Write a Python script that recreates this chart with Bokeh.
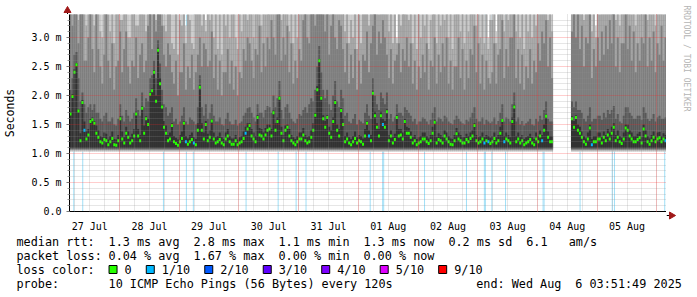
import numpy as np
import pandas as pd
from bokeh.plotting import figure
from bokeh.layouts import column, row
from bokeh.models import (Range1d, FixedTicker, Grid, ColumnDataSource,
                          DatetimeTickFormatter, CustomJSTickFormatter)
from bokeh.core.properties import value
from bokeh.embed import file_html
from bokeh.resources import INLINE

# ---------------------------------------------------------------- data
graph_start = "2025-07-27 03:51:49"
graph_end = "2025-08-06 03:51:49"
step_minutes = 48          # one consolidated sample every 48 min (300 samples)

N = None
# median RTT per sample (ms); None = no data
median_rtt = [
    1.68, 1.98, 2.40, 2.53, 1.73, 1.22, 1.88, 1.40, 1.25, 1.32,
    1.55, 1.58, 1.52, 1.35, 1.28, 1.20, 1.18, 1.24, 1.22, 1.15,
    1.20, 1.26, 1.15, 1.14, 1.22, 1.60, 1.25, 1.18, 1.35, 1.28,
    1.18, 1.22, 1.30, 1.68, 1.30, 1.22, 1.78, 1.35, 1.60, 1.50,
    2.02, 2.08, 2.40, 1.90, 2.78, 2.20, 1.80, 1.45, 1.35, 1.22,
    1.25, 1.48, 1.20, 1.17, 1.14, 1.20, 1.26, 1.52, 1.20, 1.16,
    1.20, 1.24, 1.18, 1.15, 1.40, 2.14, 1.40, 1.25, 1.50, 1.22,
    1.28, 1.56, 1.25, 1.18, 1.20, 1.24, 1.18, 1.15, 1.25, 1.30,
    1.20, 1.16, 1.16, 1.22, 1.15, 1.18, 1.20, 1.26, 1.35, 1.42,
    1.48, 1.30, 1.25, 1.20, 1.62, 1.32, 1.30, 1.25, 1.32, 1.40,
    1.42, 1.30, 1.70, 1.40, 1.55, 1.95, 1.35, 1.22, 1.40, 1.45,
    1.30, 1.22, 1.18, 1.15, 1.20, 1.25, 1.25, 1.32, 1.22, 1.18,
    1.20, 1.28, 1.40, 1.66, 2.10, 2.60, 1.95, 1.60, 1.45, 1.62,
    1.35, 1.28, 1.55, 1.88, 1.40, 1.30, 1.74, 1.50, 1.20, 1.25,
    1.18, 1.15, 1.20, 1.26, 1.18, 1.22, 1.20, 1.16, 1.30, 1.52,
    1.30, 1.22, 2.04, 1.65, 1.45, 1.30, 1.65, 1.50, 1.45, 1.72,
    1.22, 1.30, 1.18, 1.24, 1.62, 1.30, 1.32, 1.25, 1.55, 1.35,
    1.35, 1.28, 1.18, 1.22, 1.15, 1.18, 1.20, 1.25, 1.25, 1.20,
    1.17, 1.22, 1.35, 1.54, 1.18, 1.24, 1.22, 1.18, 1.30, 1.25,
    1.20, 1.16, 1.15, 1.22, 1.34, 1.25, 1.22, 1.18, 1.18, 1.24,
    1.20, 1.26, 1.30, 1.48, 1.22, 1.18, 1.20, 1.25, 1.18, 1.22,
    1.20, 1.17, 1.20, 1.26, 1.18, 1.22, 1.35, 1.57, 1.20, 1.25,
    1.22, 1.18, 1.55, 1.80, 1.20, 1.25, 1.18, 1.22, 1.15, 1.18,
    1.20, 1.24, 1.18, 1.15, 1.25, 1.20, 1.30, 1.22, 1.40, 1.64,
    1.28, 1.20, 1.20, N, N, N, N, N, N, N,
    N, N, 1.60, 1.45, 1.62, 1.40, 1.35, 1.28, 1.20, 1.16,
    1.25, 1.44, 1.15, 1.20, 1.20, 1.25, 1.25, 1.18, 1.28, 1.22,
    1.32, 1.25, 1.35, 1.45, 1.22, 1.28, 1.20, 1.17, 1.25, 1.44,
    1.40, 1.30, 1.25, 1.20, 1.20, 1.24, 1.27, 1.18, 1.42, 1.30,
    1.20, 1.16, 1.22, 1.28, 1.20, 1.25, 1.27, 1.20, 1.25, 1.22,
]

# lost pings (of 10) per sample
lost_pings = [
    0, 0, 0, 0, 0, 0, 0, 1, 0, 0,   0, 0, 0, 0, 0, 0, 0, 0, 0, 0,
    0, 0, 0, 0, 0, 0, 0, 0, 0, 0,   0, 0, 0, 0, 0, 0, 0, 0, 0, 0,
    0, 0, 0, 0, 0, 0, 0, 0, 0, 0,   0, 0, 0, 0, 0, 0, 0, 0, 1, 0,
    0, 0, 1, 0, 0, 0, 0, 0, 0, 0,   0, 0, 0, 0, 0, 0, 0, 0, 0, 0,
    0, 0, 0, 0, 0, 0, 0, 0, 1, 0,   0, 0, 0, 0, 0, 0, 0, 0, 0, 0,
    0, 0, 0, 0, 0, 0, 0, 0, 0, 0,   0, 0, 0, 0, 0, 0, 0, 0, 0, 0,
    0, 0, 0, 0, 0, 0, 0, 0, 0, 0,   0, 0, 0, 0, 0, 0, 0, 0, 0, 0,
    0, 0, 0, 0, 0, 0, 0, 0, 0, 0,   1, 0, 0, 0, 0, 0, 0, 1, 0, 0,
    0, 0, 0, 0, 0, 0, 0, 0, 0, 0,   0, 0, 0, 0, 0, 0, 0, 0, 0, 0,
    0, 0, 0, 0, 0, 0, 0, 0, 0, 0,   0, 0, 0, 0, 0, 0, 0, 0, 0, 0,
    0, 0, 0, 0, 0, 0, 0, 0, 1, 0,   1, 0, 0, 0, 0, 0, 0, 0, 1, 0,
    0, 0, 0, 0, 0, 0, 0, 0, 0, 0,   0, 0, 0, 0, 0, 0, 0, 1, 0, 0,
    0, 0, 0, 0, 0, 0, 0, 0, 0, 0,   0, 0, 0, 0, 0, 0, 0, 0, 0, 0,
    0, 0, 1, 0, 0, 0, 0, 0, 0, 0,   0, 0, 0, 0, 0, 0, 0, 0, 0, 0,
    0, 0, 0, 0, 0, 0, 0, 0, 0, 0,   0, 0, 0, 0, 0, 0, 0, 0, 0, 1,
]

# smoke: sorted ping ranks (ms); the five fastest pings are nearly constant
rank_floor = [1.03, 1.05, 1.065, 1.08, 1.095]   # ping 1..5

ping6 = [
    1.72, 2.02, 2.45, 2.56, 1.76, 1.35, 1.92, 1.55, 1.38, 1.42,
    1.60, 1.62, 1.56, 1.48, 1.40, 1.30, 1.28, 1.36, 1.34, 1.24,
    1.30, 1.38, 1.25, 1.24, 1.32, 1.64, 1.38, 1.28, 1.46, 1.38,
    1.28, 1.34, 1.42, 1.72, 1.42, 1.32, 1.82, 1.48, 1.64, 1.60,
    2.06, 2.12, 2.44, 2.00, 2.82, 2.30, 1.84, 1.56, 1.48, 1.32,
    1.36, 1.52, 1.30, 1.27, 1.24, 1.32, 1.38, 1.56, 1.30, 1.26,
    1.32, 1.36, 1.28, 1.25, 1.52, 2.18, 1.52, 1.36, 1.56, 1.34,
    1.40, 1.60, 1.36, 1.28, 1.30, 1.36, 1.28, 1.25, 1.36, 1.42,
    1.30, 1.26, 1.26, 1.32, 1.24, 1.28, 1.30, 1.38, 1.46, 1.52,
    1.52, 1.42, 1.36, 1.30, 1.66, 1.44, 1.42, 1.36, 1.44, 1.50,
    1.50, 1.42, 1.74, 1.52, 1.62, 1.98, 1.46, 1.32, 1.48, 1.50,
    1.42, 1.32, 1.28, 1.25, 1.30, 1.36, 1.36, 1.44, 1.32, 1.28,
    1.30, 1.40, 1.52, 1.70, 2.16, 2.63, 1.98, 1.66, 1.56, 1.66,
    1.46, 1.40, 1.62, 1.92, 1.50, 1.42, 1.78, 1.60, 1.30, 1.36,
    1.28, 1.25, 1.30, 1.38, 1.28, 1.32, 1.30, 1.26, 1.42, 1.56,
    1.40, 1.32, 2.08, 1.72, 1.52, 1.42, 1.72, 1.60, 1.56, 1.76,
    1.32, 1.40, 1.28, 1.34, 1.66, 1.42, 1.42, 1.36, 1.60, 1.46,
    1.44, 1.38, 1.28, 1.32, 1.25, 1.28, 1.30, 1.36, 1.36, 1.30,
    1.26, 1.32, 1.46, 1.58, 1.28, 1.35, 1.32, 1.28, 1.40, 1.36,
    1.30, 1.26, 1.25, 1.32, 1.44, 1.36, 1.32, 1.28, 1.28, 1.34,
    1.30, 1.36, 1.40, 1.52, 1.32, 1.28, 1.30, 1.36, 1.28, 1.32,
    1.30, 1.27, 1.30, 1.36, 1.28, 1.32, 1.46, 1.60, 1.30, 1.36,
    1.32, 1.28, 1.62, 1.84, 1.30, 1.36, 1.28, 1.32, 1.25, 1.28,
    1.30, 1.34, 1.28, 1.25, 1.36, 1.30, 1.40, 1.32, 1.50, 1.67,
    1.38, 1.30, 1.30, N, N, N, N, N, N, N,
    N, N, 1.64, 1.56, 1.66, 1.50, 1.46, 1.38, 1.30, 1.26,
    1.36, 1.50, 1.25, 1.30, 1.30, 1.36, 1.36, 1.28, 1.38, 1.32,
    1.42, 1.36, 1.46, 1.52, 1.32, 1.40, 1.30, 1.27, 1.36, 1.50,
    1.50, 1.40, 1.36, 1.30, 1.30, 1.34, 1.37, 1.28, 1.50, 1.40,
    1.30, 1.26, 1.32, 1.38, 1.30, 1.36, 1.37, 1.30, 1.35, 1.32,
]
ping7 = [
    2.10, 2.30, 2.70, 2.75, 2.30, 1.90, 2.05, 1.85, 1.70, 1.80,
    1.85, 1.75, 1.85, 1.70, 1.70, 1.60, 1.55, 1.65, 1.70, 1.55,
    1.55, 1.62, 1.50, 1.48, 1.60, 1.85, 1.65, 1.55, 1.75, 1.65,
    1.55, 1.60, 1.70, 1.95, 1.75, 1.65, 2.05, 1.80, 1.95, 1.90,
    2.30, 2.35, 2.60, 2.30, 2.95, 2.55, 2.10, 1.85, 1.80, 1.65,
    1.70, 1.80, 1.55, 1.60, 1.50, 1.55, 1.65, 1.80, 1.55, 1.50,
    1.62, 1.58, 1.55, 1.50, 1.80, 2.35, 1.80, 1.65, 1.85, 1.60,
    1.70, 1.85, 1.65, 1.55, 1.55, 1.62, 1.50, 1.48, 1.60, 1.70,
    1.55, 1.50, 1.50, 1.58, 1.48, 1.52, 1.55, 1.65, 1.70, 1.78,
    1.80, 1.70, 1.62, 1.55, 1.85, 1.70, 1.70, 1.62, 1.75, 1.82,
    1.80, 1.70, 2.00, 1.80, 1.95, 2.25, 1.75, 1.60, 1.80, 1.85,
    1.70, 1.60, 1.55, 1.52, 1.60, 1.68, 1.65, 1.75, 1.80, 1.70,
    1.85, 1.95, 1.90, 2.10, 2.50, 2.85, 2.40, 2.10, 1.95, 2.10,
    1.85, 1.75, 2.00, 2.25, 1.90, 1.80, 2.10, 1.95, 1.65, 1.70,
    1.55, 1.52, 1.60, 1.68, 1.50, 1.58, 1.55, 1.52, 1.70, 1.85,
    1.65, 1.60, 2.30, 2.00, 1.85, 1.75, 2.05, 1.95, 1.85, 2.05,
    1.60, 1.68, 1.55, 1.62, 1.85, 1.70, 1.70, 1.65, 1.80, 1.75,
    1.70, 1.65, 1.55, 1.60, 1.50, 1.55, 1.55, 1.62, 1.60, 1.55,
    1.50, 1.58, 1.70, 1.80, 1.55, 1.62, 1.60, 1.55, 1.65, 1.62,
    1.55, 1.52, 1.50, 1.58, 1.65, 1.60, 1.55, 1.52, 1.50, 1.58,
    1.55, 1.62, 1.70, 1.80, 1.60, 1.55, 1.55, 1.62, 1.50, 1.58,
    1.55, 1.52, 1.55, 1.62, 1.50, 1.56, 1.70, 1.85, 1.55, 1.62,
    1.60, 1.55, 1.85, 2.05, 1.55, 1.62, 1.50, 1.56, 1.48, 1.52,
    1.55, 1.60, 1.50, 1.48, 1.60, 1.55, 1.65, 1.58, 1.75, 1.90,
    1.60, 1.55, 1.55, N, N, N, N, N, N, N,
    N, N, 1.90, 1.80, 1.90, 1.75, 1.75, 1.70, 1.60, 1.55,
    1.65, 1.80, 1.55, 1.60, 1.60, 1.65, 1.65, 1.58, 1.70, 1.62,
    1.75, 1.68, 1.75, 1.82, 1.60, 1.68, 1.55, 1.52, 1.65, 1.80,
    1.80, 1.70, 1.65, 1.60, 1.60, 1.65, 1.65, 1.58, 1.80, 1.70,
    1.60, 1.56, 1.60, 1.68, 1.55, 1.62, 1.65, 1.60, 1.60, 1.62,
]
ping8 = [
    4.0, 3.2, 4.0, 4.0, 2.9, 4.0, 4.0, 2.6, 2.6, 3.0,
    4.0, 2.8, 2.4, 4.0, 2.8, 2.5, 2.2, 2.7, 4.0, 2.6,
    2.3, 2.9, 2.1, 2.5, 2.6, 3.1, 2.4, 2.8, 3.1, 2.5,
    2.2, 2.6, 2.5, 3.0, 2.3, 2.7, 2.9, 2.4, 2.6, 3.2,
    4.0, 2.8, 4.0, 3.1, 4.0, 3.4, 3.2, 2.7, 2.5, 2.9,
    2.7, 2.4, 2.2, 2.6, 2.0, 2.4, 2.4, 2.9, 2.1, 2.5,
    2.3, 2.7, 2.1, 2.4, 2.7, 3.0, 2.5, 2.9, 2.8, 2.5,
    2.6, 3.1, 2.3, 2.7, 2.1, 2.6, 2.0, 2.4, 2.4, 2.8,
    2.2, 2.6, 2.1, 2.5, 2.0, 2.4, 2.3, 2.8, 2.6, 3.0,
    2.9, 2.6, 2.3, 2.8, 2.7, 3.2, 2.4, 2.9, 2.5, 3.0,
    2.8, 3.3, 3.0, 2.7, 3.4, 4.0, 2.6, 3.0, 2.7, 3.2,
    2.4, 2.9, 2.2, 2.6, 2.3, 2.8, 2.6, 3.3, 4.0, 3.0,
    2.9, 4.0, 4.0, 3.2, 4.0, 4.0, 4.0, 3.4, 3.1, 4.0,
    2.7, 3.2, 4.0, 3.0, 2.8, 3.3, 3.2, 2.8, 2.4, 2.9,
    2.2, 2.7, 2.3, 2.8, 2.1, 2.6, 2.2, 2.7, 2.6, 3.1,
    2.4, 2.9, 3.2, 4.0, 2.7, 3.1, 2.9, 3.3, 3.0, 2.7,
    2.3, 2.8, 2.2, 2.6, 2.7, 2.9, 2.4, 2.8, 2.6, 3.0,
    2.5, 2.9, 2.2, 2.6, 2.1, 2.5, 2.3, 2.7, 2.4, 2.9,
    2.1, 2.6, 2.5, 3.0, 2.2, 2.7, 2.4, 2.9, 2.5, 3.0,
    2.2, 2.6, 2.1, 2.5, 2.5, 3.0, 2.3, 2.8, 2.1, 2.6,
    2.3, 2.8, 2.7, 3.2, 2.4, 2.9, 2.2, 2.7, 2.1, 2.6,
    2.3, 2.2, 2.4, 2.9, 2.2, 2.7, 2.8, 3.3, 2.3, 2.8,
    2.5, 3.0, 3.0, 3.4, 2.3, 2.8, 2.2, 2.7, 2.1, 2.5,
    2.3, 2.8, 2.2, 2.6, 2.4, 2.9, 2.6, 3.1, 2.9, 3.3,
    2.5, 3.0, 2.3, N, N, N, N, N, N, N,
    N, N, 3.1, 4.0, 3.0, 3.4, 2.8, 3.2, 2.5, 3.0,
    2.9, 3.4, 2.3, 2.8, 2.5, 3.0, 2.6, 3.1, 2.7, 3.2,
    2.8, 3.3, 2.9, 4.0, 2.5, 3.0, 2.4, 2.9, 2.9, 3.4,
    2.8, 3.2, 2.6, 3.1, 2.4, 2.9, 2.6, 3.0, 2.9, 3.4,
    2.5, 3.0, 2.6, 3.1, 2.4, 2.9, 2.7, 3.2, 2.6, 3.0,
]
ping9 = [
    4.0, 4.0, 4.0, 4.0, 3.3, 4.0, 4.0, 4.0, 3.2, 4.0,
    4.0, 4.0, 3.2, 4.0, 4.0, 3.1, 3.0, 4.0, 4.0, 3.4,
    3.1, 4.0, 2.9, 3.5, 4.0, 3.3, 3.3, 4.0, 4.0, 3.0,
    3.0, 4.0, 4.0, 3.2, 3.2, 4.0, 4.0, 3.4, 3.1, 4.0,
    4.0, 4.0, 4.0, 3.3, 4.0, 4.0, 4.0, 3.2, 3.1, 4.0,
    4.0, 2.9, 2.8, 4.0, 2.7, 3.3, 3.2, 4.0, 2.9, 3.4,
    3.3, 2.9, 2.8, 4.0, 4.0, 4.0, 3.2, 4.0, 3.1, 4.0,
    3.3, 4.0, 3.0, 4.0, 2.8, 3.4, 2.7, 4.0, 3.2, 4.0,
    3.0, 3.4, 4.0, 3.0, 2.8, 4.0, 3.1, 4.0, 4.0, 3.3,
    4.0, 4.0, 3.0, 4.0, 4.0, 3.4, 3.2, 4.0, 3.4, 4.0,
    4.0, 3.5, 4.0, 4.0, 4.0, 4.0, 3.3, 4.0, 4.0, 3.5,
    3.1, 4.0, 2.9, 3.4, 3.0, 4.0, 4.0, 4.0, 4.0, 4.0,
    4.0, 4.0, 4.0, 4.0, 4.0, 4.0, 4.0, 4.0, 4.0, 4.0,
    3.4, 4.0, 4.0, 4.0, 4.0, 3.5, 4.0, 4.0, 3.1, 4.0,
    2.9, 3.3, 3.0, 4.0, 2.8, 3.4, 2.9, 4.0, 4.0, 4.0,
    3.2, 4.0, 4.0, 4.0, 4.0, 3.4, 4.0, 4.0, 4.0, 4.0,
    3.1, 4.0, 2.9, 3.4, 2.9, 4.0, 3.2, 4.0, 4.0, 3.4,
    3.3, 4.0, 2.9, 3.4, 2.8, 4.0, 3.0, 3.4, 3.2, 4.0,
    2.8, 3.3, 3.4, 4.0, 2.9, 4.0, 3.2, 3.4, 3.3, 4.0,
    3.0, 4.0, 2.8, 3.4, 4.0, 4.0, 3.1, 4.0, 2.9, 3.4,
    3.1, 4.0, 4.0, 4.0, 3.2, 4.0, 3.0, 3.4, 2.9, 4.0,
    2.8, 3.3, 3.3, 4.0, 2.9, 4.0, 4.0, 4.0, 3.1, 4.0,
    3.3, 4.0, 4.0, 4.0, 3.1, 4.0, 3.0, 3.4, 2.8, 4.0,
    3.1, 4.0, 3.0, 3.4, 3.2, 4.0, 4.0, 4.0, 4.0, 4.0,
    3.3, 4.0, 3.1, N, N, N, N, N, N, N,
    N, N, 4.0, 4.0, 4.0, 4.0, 4.0, 3.5, 3.3, 4.0,
    4.0, 4.0, 3.1, 4.0, 3.0, 4.0, 3.4, 4.0, 4.0, 3.5,
    4.0, 4.0, 4.0, 4.0, 3.3, 4.0, 3.2, 4.0, 4.0, 4.0,
    4.0, 3.5, 3.4, 4.0, 3.2, 4.0, 3.4, 4.0, 4.0, 4.0,
    3.3, 4.0, 3.4, 4.0, 3.2, 4.0, 4.0, 3.5, 3.4, 4.0,
]
ping10 = [
    5.0, 5.0, 5.0, 5.0, 5.0, 5.0, 5.0, 5.0, 5.0, 5.0,
    5.0, 5.0, 5.0, 5.0, 5.0, 5.0, 5.0, 5.0, 5.0, 5.0,
    5.0, 5.0, 5.0, 5.0, 5.0, 5.0, 5.0, 5.0, 5.0, 5.0,
    5.0, 5.0, 5.0, 5.0, 5.0, 5.0, 5.0, 5.0, 5.0, 5.0,
    5.0, 5.0, 5.0, 5.0, 5.0, 5.0, 5.0, 5.0, 5.0, 5.0,
    5.0, 5.0, 5.0, 5.0, 5.0, 5.0, 5.0, 5.0, 3.2, 5.0,
    5.0, 5.0, 5.0, 5.0, 5.0, 5.0, 5.0, 5.0, 3.3, 5.0,
    5.0, 5.0, 5.0, 5.0, 5.0, 5.0, 5.0, 5.0, 5.0, 5.0,
    5.0, 5.0, 5.0, 5.0, 5.0, 5.0, 5.0, 5.0, 5.0, 5.0,
    5.0, 5.0, 5.0, 5.0, 5.0, 5.0, 5.0, 5.0, 5.0, 5.0,
    5.0, 5.0, 5.0, 5.0, 5.0, 5.0, 5.0, 5.0, 5.0, 5.0,
    5.0, 5.0, 5.0, 5.0, 5.0, 5.0, 5.0, 5.0, 5.0, 5.0,
    5.0, 5.0, 5.0, 5.0, 5.0, 5.0, 5.0, 5.0, 5.0, 5.0,
    5.0, 5.0, 5.0, 5.0, 5.0, 5.0, 5.0, 5.0, 5.0, 5.0,
    5.0, 5.0, 5.0, 5.0, 5.0, 5.0, 5.0, 5.0, 5.0, 5.0,
    5.0, 5.0, 5.0, 5.0, 5.0, 5.0, 5.0, 5.0, 5.0, 5.0,
    5.0, 5.0, 5.0, 5.0, 3.0, 5.0, 5.0, 5.0, 5.0, 5.0,
    5.0, 5.0, 5.0, 5.0, 5.0, 5.0, 5.0, 5.0, 5.0, 5.0,
    5.0, 5.0, 5.0, 5.0, 5.0, 5.0, 5.0, 5.0, 5.0, 5.0,
    5.0, 5.0, 5.0, 5.0, 5.0, 5.0, 5.0, 5.0, 5.0, 5.0,
    5.0, 5.0, 5.0, 5.0, 5.0, 5.0, 5.0, 5.0, 5.0, 5.0,
    3.0, 5.0, 5.0, 5.0, 3.1, 5.0, 5.0, 5.0, 5.0, 5.0,
    5.0, 5.0, 5.0, 5.0, 5.0, 5.0, 5.0, 5.0, 5.0, 5.0,
    5.0, 5.0, 5.0, 5.0, 5.0, 5.0, 5.0, 5.0, 5.0, 5.0,
    5.0, 5.0, 5.0, N, N, N, N, N, N, N,
    N, N, 5.0, 5.0, 5.0, 5.0, 5.0, 5.0, 5.0, 5.0,
    5.0, 5.0, 5.0, 5.0, 3.2, 5.0, 5.0, 5.0, 5.0, 5.0,
    5.0, 5.0, 5.0, 5.0, 5.0, 5.0, 5.0, 5.0, 5.0, 5.0,
    5.0, 5.0, 5.0, 5.0, 5.0, 5.0, 5.0, 5.0, 5.0, 5.0,
    5.0, 5.0, 5.0, 5.0, 5.0, 5.0, 5.0, 5.0, 5.0, 5.0,
]

# times with packet loss (loss background bars)
loss_times = [
    "2025-07-27 05:35", "2025-07-27 09:11", "2025-07-28 17:38", "2025-07-29 02:51",
    "2025-07-29 05:39", "2025-07-30 02:51", "2025-07-30 15:45", "2025-07-30 22:58",
    "2025-07-31 02:57", "2025-08-01 04:45", "2025-08-01 09:45", "2025-08-01 10:10",
    "2025-08-02 02:35", "2025-08-02 19:27", "2025-08-03 02:39", "2025-08-03 03:03",
    "2025-08-03 05:39", "2025-08-03 11:09", "2025-08-04 02:15", "2025-08-04 02:39",
    "2025-08-04 17:07", "2025-08-05 06:03", "2025-08-05 06:57", "2025-08-06 03:09",
]

loss_labels = ["0", "1/10", "2/10", "3/10", "4/10", "5/10", "9/10"]
loss_colors = ["#26ff00", "#00b8ff", "#0059ff", "#5e00ff", "#7e00ff", "#dd00ff", "#ff0000"]

rtt_stat_values = [1.3, 2.8, 1.1, 1.3, 0.2]     # avg max min now sd (ms)
rtt_stat_names = ["avg", "max", "min", "now", "sd"]
am_s = 6.1
loss_stat_values = [0.04, 1.67, 0.00, 0.00]      # avg max min now (%)
loss_stat_names = ["avg", "max", "min", "now"]
probe_text = "10 ICMP Echo Pings (56 Bytes) every 120s"
end_text = "end: Wed Aug  6 03:51:49 2025"
watermark = "RRDTOOL / TOBI OETIKER"

y_major = [0.0, 0.5, 1.0, 1.5, 2.0, 2.5, 3.0]

# ---------------------------------------------------------------- helpers
def ms(ts):
    return pd.Timestamp(ts).value // 10**6

t0 = ms(graph_start)
t1 = ms(graph_end)
step_ms = step_minutes * 60 * 1000
n = len(median_rtt)
left = np.array([t0 + i * step_ms for i in range(n)], dtype=float)
right = left + step_ms
mid = left + step_ms / 2

med = np.array(median_rtt, dtype=float)
tops = [np.array(a, dtype=float) for a in (ping10, ping9, ping8, ping7, ping6)]
valid = ~np.isnan(med)

MONO = "DejaVu Sans Mono"
W = 697
W_MAIN = 666
H_TOP, H_MAIN, H_LEG = 14, 220, 63
ARROW = "#a01818"


def pixel_fig(w, h, x_start, y_start):
    """helper figure whose data coordinates are page pixels"""
    return figure(width=w, height=h, x_range=Range1d(x_start, x_start + w),
                  y_range=Range1d(y_start + h, y_start), x_axis_type=None, y_axis_type=None,
                  toolbar_location=None, output_backend="svg", min_border=0,
                  outline_line_color=None, background_fill_color="white",
                  border_fill_color="white", frame_align=False)


# ---------------------------------------------------------------- main plot
p = figure(width=W_MAIN, height=H_MAIN, x_axis_type="datetime",
           x_range=Range1d(t0, t1), y_range=Range1d(0, 3.395),
           toolbar_location=None, output_backend="svg",
           min_border_left=67, min_border_right=0, min_border_top=0, min_border_bottom=19,
           background_fill_color="white", border_fill_color="white",
           outline_line_color=None, frame_align=False)
p.xgrid.visible = False
p.ygrid.visible = False

# loss background bars (behind smoke)
lt = [ms(t) for t in loss_times]
p.vbar(x=lt, width=25 * 60 * 1000, bottom=0, top=3.395,
       fill_color="#a3e0f7", line_color=None)

# smoke layers
shades = ["#cacaca", "#a4a4a4", "#7e7e7e", "#585858", "#323232"]
for k in range(5):
    src = ColumnDataSource(dict(left=left[valid], right=right[valid],
                                bottom=np.full(valid.sum(), rank_floor[k]),
                                top=tops[k][valid]))
    p.quad(left="left", right="right", bottom="bottom", top="top", source=src,
           fill_color=shades[k], line_color=None)

# median marks coloured by loss
col = [loss_colors[min(lost_pings[i], 6)] for i in range(n)]
msrc = ColumnDataSource(dict(x=mid[valid], y=med[valid],
                             c=[col[i] for i in range(n) if valid[i]]))
p.rect(x="x", y="y", width=2, height=3, width_units="screen", height_units="screen",
       fill_color="c", line_color=None, source=msrc)

# grids on top of the smoke
six_h = [t.value // 10**6 for t in pd.date_range("2025-07-27 06:00", "2025-08-06 00:00", freq="6h")]
midn = [t.value // 10**6 for t in pd.date_range("2025-07-28", "2025-08-06", freq="D")]
y_minor = [round(v, 1) for v in np.arange(0.1, 3.35, 0.1) if round(v, 1) not in y_major]
for dim, ticks, color, alpha in [(0, six_h, "#909090", 0.45), (1, y_minor, "#909090", 0.45),
                                 (0, midn, "#ff2020", 0.45), (1, y_major[1:], "#ff2020", 0.45)]:
    g = Grid(dimension=dim, ticker=FixedTicker(ticks=ticks), grid_line_color=color,
             grid_line_alpha=alpha, grid_line_dash="1 1", level="annotation")
    p.add_layout(g)

# axes
noons = [t.value // 10**6 for t in pd.date_range("2025-07-27 12:00", "2025-08-05 12:00", freq="D")]
p.xaxis.ticker = FixedTicker(ticks=noons)
p.xaxis.formatter = DatetimeTickFormatter(days="%d %b", hours="%d %b", hourmin="%d %b",
                                          months="%d %b", minutes="%d %b", years="%d %b")
p.xaxis.major_tick_line_color = None
p.xaxis.minor_tick_line_color = None
p.xaxis.major_label_standoff = 3
p.xaxis.axis_line_color = "black"
p.xaxis.major_label_text_font = MONO
p.xaxis.major_label_text_font_size = "10px"
p.xaxis.major_label_text_color = "black"

p.yaxis.ticker = FixedTicker(ticks=y_major, minor_ticks=y_minor)
p.yaxis.formatter = CustomJSTickFormatter(code="return tick == 0 ? '0.0' : tick.toFixed(1) + ' m';")
p.yaxis.major_tick_out = 3
p.yaxis.major_tick_in = 0
p.yaxis.minor_tick_out = 2
p.yaxis.minor_tick_in = 0
p.yaxis.major_tick_line_color = "#777777"
p.yaxis.minor_tick_line_color = "#999999"
p.yaxis.major_label_standoff = 5
p.yaxis.axis_line_color = "black"
p.yaxis.major_label_text_font = MONO
p.yaxis.major_label_text_font_size = "10px"
p.yaxis.major_label_text_color = "black"
p.yaxis.axis_label = "Seconds"
p.yaxis.axis_label_text_font = MONO
p.yaxis.axis_label_text_font_size = "11.5px"
p.yaxis.axis_label_text_font_style = "normal"
p.yaxis.axis_label_text_color = "black"
p.yaxis.axis_label_standoff = 11

# ---------------------------------------------------------------- top strip: y-axis arrow
top = pixel_fig(W_MAIN, H_TOP, 0, 0)
top.segment(x0=[67], y0=[9], x1=[67], y1=[H_TOP], line_color="black", line_width=1)
top.scatter(x=[67], y=[10], marker="triangle", size=7,
            fill_color=ARROW, line_color=ARROW)

# ---------------------------------------------------------------- right strip
side = pixel_fig(W - W_MAIN, H_TOP + H_MAIN, W_MAIN, 0)
side.segment(x0=[W_MAIN], y0=[215], x1=[670], y1=[215], line_color="black", line_width=1)
side.scatter(x=[671], y=[215], marker="triangle", size=7, angle=-np.pi / 2,
             fill_color=ARROW, line_color=ARROW)
side.text(x=[686], y=[5], text=[watermark], angle=-np.pi / 2,
          text_font=value(MONO), text_font_size="8px", text_color="#b4b4b4",
          text_align="left", text_baseline="middle")

# ---------------------------------------------------------------- legend
leg = pixel_fig(W, H_LEG, 0, 0)

cw = 7.08
x0 = 16
rows = [7, 21, 35, 49]
tx, ty, tt = [], [], []

def put(s, xpix, r):
    tx.append(xpix)
    ty.append(rows[r])
    tt.append(s)

put("median rtt:", x0, 0)
for j, (v, nm) in enumerate(zip(rtt_stat_values, rtt_stat_names)):
    put(f"{v:.1f} ms {nm}", x0 + (13 + 12 * j) * cw, 0)
put(f"{am_s:.1f}", x0 + 72 * cw, 0)
put("am/s", x0 + 78 * cw, 0)

put("packet loss:", x0, 1)
for j, (v, nm) in enumerate(zip(loss_stat_values, loss_stat_names)):
    put(f"{v:.2f} % {nm}", x0 + (13 + 12 * j) * cw, 1)

put("loss color:", x0, 2)
bx = x0 + 13 * cw
box_x = []
for lab in loss_labels:
    box_x.append(bx + 4.5)
    put(lab, bx + 16, 2)
    bx = bx + 16 + len(lab) * cw + 2 * cw
leg.rect(x=box_x, y=[rows[2]] * len(box_x), width=8, height=8,
         fill_color=loss_colors, line_color="black", line_width=1)

put("probe:", x0, 3)
put(probe_text, x0 + 13 * cw, 3)
end_x = 681 - len(end_text) * cw
head, tail = end_text.split("  ")
put(head, end_x, 3)
put(tail, end_x + (len(head) + 2) * cw, 3)

leg.text(x=tx, y=ty, text=tt, text_font=value(MONO), text_font_size="11.8px",
         text_color="black", text_align="left", text_baseline="middle")

layout = column(row(column(top, p, spacing=0), side, spacing=0), leg, spacing=0)
open("out.html", "w").write(file_html(layout, INLINE))
